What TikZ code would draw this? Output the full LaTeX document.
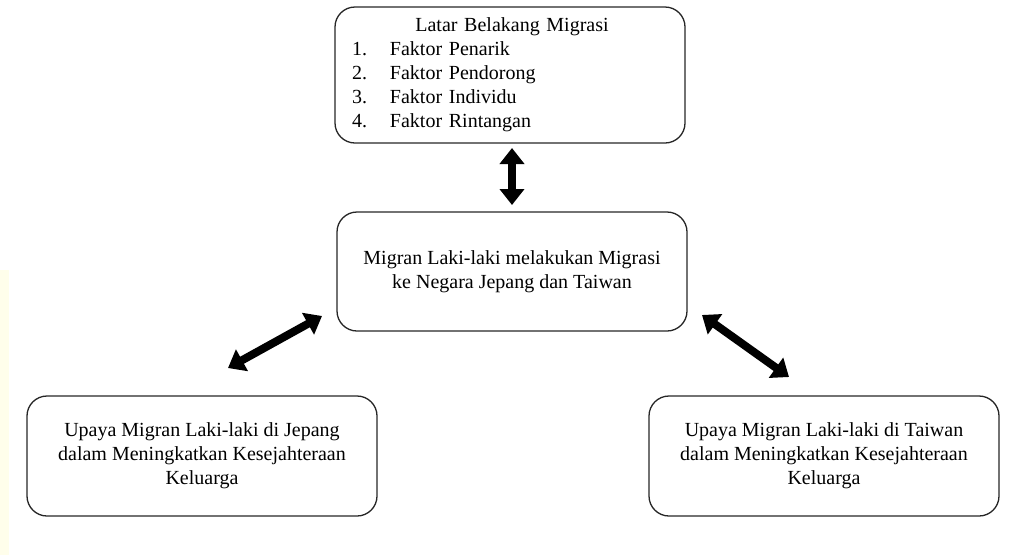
\documentclass[tikz,border=0pt]{standalone}
\usepackage{fontspec}
\setmainfont{Liberation Serif}
\usetikzlibrary{arrows.meta}
\begin{document}
\begin{tikzpicture}[x=1pt,y=-1pt,
  box/.style={draw=black!85, line width=1.3pt, rounded corners=20pt, inner sep=0pt,
    minimum width=350pt, font=\fontsize{20}{24}\selectfont},
  blockarrow/.style={line width=8pt, {Triangle[width=24pt,length=16pt]}-{Triangle[width=24pt,length=16pt]}}]
\useasboundingbox (0,0) rectangle (1009,555);
\fill[yellow!8] (0,270) rectangle (9,555);
\node[box, minimum height=136pt, text width=316pt, align=left] (top) at (510,75)
 {\makebox[316pt]{\hspace{4pt}Latar Belakang Migrasi}\\
  \makebox[38pt][l]{1.}Faktor Penarik\\
  \makebox[38pt][l]{2.}Faktor Pendorong\\
  \makebox[38pt][l]{3.}Faktor Individu\\
  \makebox[38pt][l]{4.}Faktor Rintangan};
\node[box, minimum height=119pt, align=center] (mid) at (512,271.5)
 {Migran Laki-laki melakukan Migrasi\\ke Negara Jepang dan Taiwan};
\node[box, minimum height=120pt, align=center] (left) at (202,456)
 {Upaya Migran Laki-laki di Jepang\\dalam Meningkatkan Kesejahteraan\\Keluarga};
\node[box, minimum height=120pt, align=center] (right) at (824,456)
 {Upaya Migran Laki-laki di Taiwan\\dalam Meningkatkan Kesejahteraan\\Keluarga};
\coordinate (v1) at (512,148);
\coordinate (v2) at (512,205);
\coordinate (l1) at (322,316);
\coordinate (l2) at (228,368);
\coordinate (r1) at (702,315);
\coordinate (r2) at (789,377);
\draw[blockarrow] (v1) -- (v2);
\draw[blockarrow] (l1) -- (l2);
\draw[blockarrow] (r1) -- (r2);
\end{tikzpicture}
\end{document}
